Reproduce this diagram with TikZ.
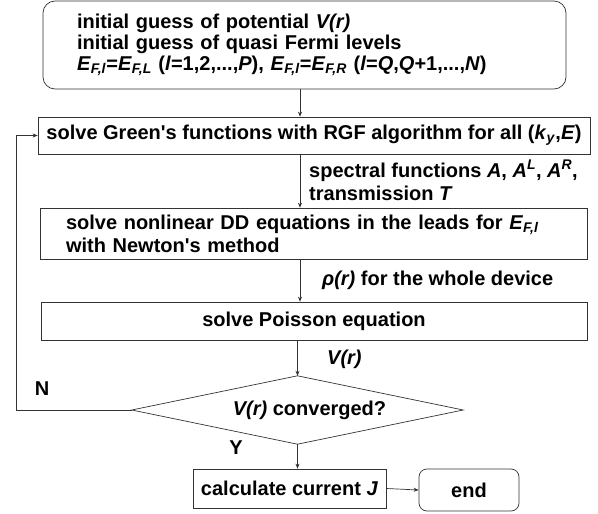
\documentclass[tikz,border=0pt]{standalone}
\usepackage{fontspec}
\setmainfont{Liberation Sans}
\usetikzlibrary{arrows.meta}
\tikzset{
  blk/.style={draw=black!80, line width=0.7pt, inner sep=0pt, font=\fontsize{20}{21}\selectfont\bfseries},
  rblk/.style={blk, rounded corners=12pt},
  decis/.style={inner sep=0pt, font=\fontsize{20}{21}\selectfont\bfseries},
  lbl/.style={font=\fontsize{20}{22}\selectfont\bfseries, inner sep=0pt, anchor=west},
  flow/.style={draw=black!80, line width=0.7pt, -{Stealth[length=5pt,width=4pt]}},
}
\newcommand{\sbit}[1]{\textsubscript{\textit{#1}}}
\newcommand{\aps}{\textquotesingle}

\begin{document}
\begin{tikzpicture}[x=1pt,y=-1pt]
    \useasboundingbox (0,0) rectangle (598,514);
    %helper columns
    \coordinate (spine) at (300,0);
    \coordinate (loop) at (16.7,0);

    %boxes
    \node[rblk, minimum width=523pt, minimum height=88pt, text width=455pt, align=left] (init) at (304.5,45)
      {initial guess of potential \textit{V(r)}\\
       initial guess of quasi Fermi levels\\
       \textit{E}\sbit{F,l}=\textit{E}\sbit{F,L} (\textit{l}=1,2,...,\textit{P}), \textit{E}\sbit{F,l}=\textit{E}\sbit{F,R} (\textit{l}=\textit{Q},\textit{Q}+1,...,\textit{N})};
    \node[blk, minimum width=552pt, minimum height=37pt] (rgf) at (314,135.5)
      {solve Green\aps s functions with RGF algorithm for all (\textit{k}\sbit{y},\textit{E})};
    \node[blk, minimum width=547pt, minimum height=51pt, text width=495pt, align=left,
          font=\fontsize{20}{23}\selectfont\bfseries] (dd) at (313.5,233.5)
      {solve nonlinear DD equations in the leads for \textit{E}\sbit{F,l}\\
       with Newton\aps s method};
    \node[blk, minimum width=546pt, minimum height=38pt] (pois) at (314,321)
      {solve Poisson equation};
    \node[decis, minimum width=331pt, minimum height=68pt] (conv) at (297.5,410)
      {\hspace*{24pt}\textit{V(r)} converged?};
    \node[blk, minimum width=193pt, minimum height=39pt] (curr) at (289.5,488.5)
      {calculate current \textit{J}};
    \node[rblk, rounded corners=8pt, minimum width=100pt, minimum height=42pt] (fin) at (469,490)
      {end};
    \draw[draw=black!80, line width=0.7pt] (conv.west) -- (conv.north) -- (conv.east) -- (conv.south) -- cycle;

    %labels
    \node[lbl] (specA) at (309,171) {spectral functions \textit{A}, \textit{A}\textsuperscript{\textit{L}}, \textit{A}\textsuperscript{\textit{R}},};
    \node[lbl] (specT) at (309,193) {transmission \textit{T}};
    \node[lbl] (rho) at (322,280) {\textit{ρ(r)} for the whole device};
    \node[lbl] (vr) at (327,359) {\textit{V(r)}};
    \node[lbl, anchor=center] (nlab) at (42,389) {N};
    \node[lbl, anchor=center] (ylab) at (236,448) {Y};

    %arrows
    \draw[flow] (init.south -| spine) -- (rgf.north -| spine);
    \draw[flow] (rgf.south -| spine) -- (dd.north -| spine);
    \draw[flow] (dd.south -| spine) -- (pois.north -| spine);
    \draw[flow] (pois.south -| conv.north) -- (conv.north);
    \draw[flow] (conv.south) -- (conv.south |- curr.north);
    \draw[flow] (curr.east) -- (fin.west);
    \draw[flow] (conv.west) -- (conv.west -| loop) -- (rgf.west -| loop) -- (rgf.west);
\end{tikzpicture}
\end{document}
